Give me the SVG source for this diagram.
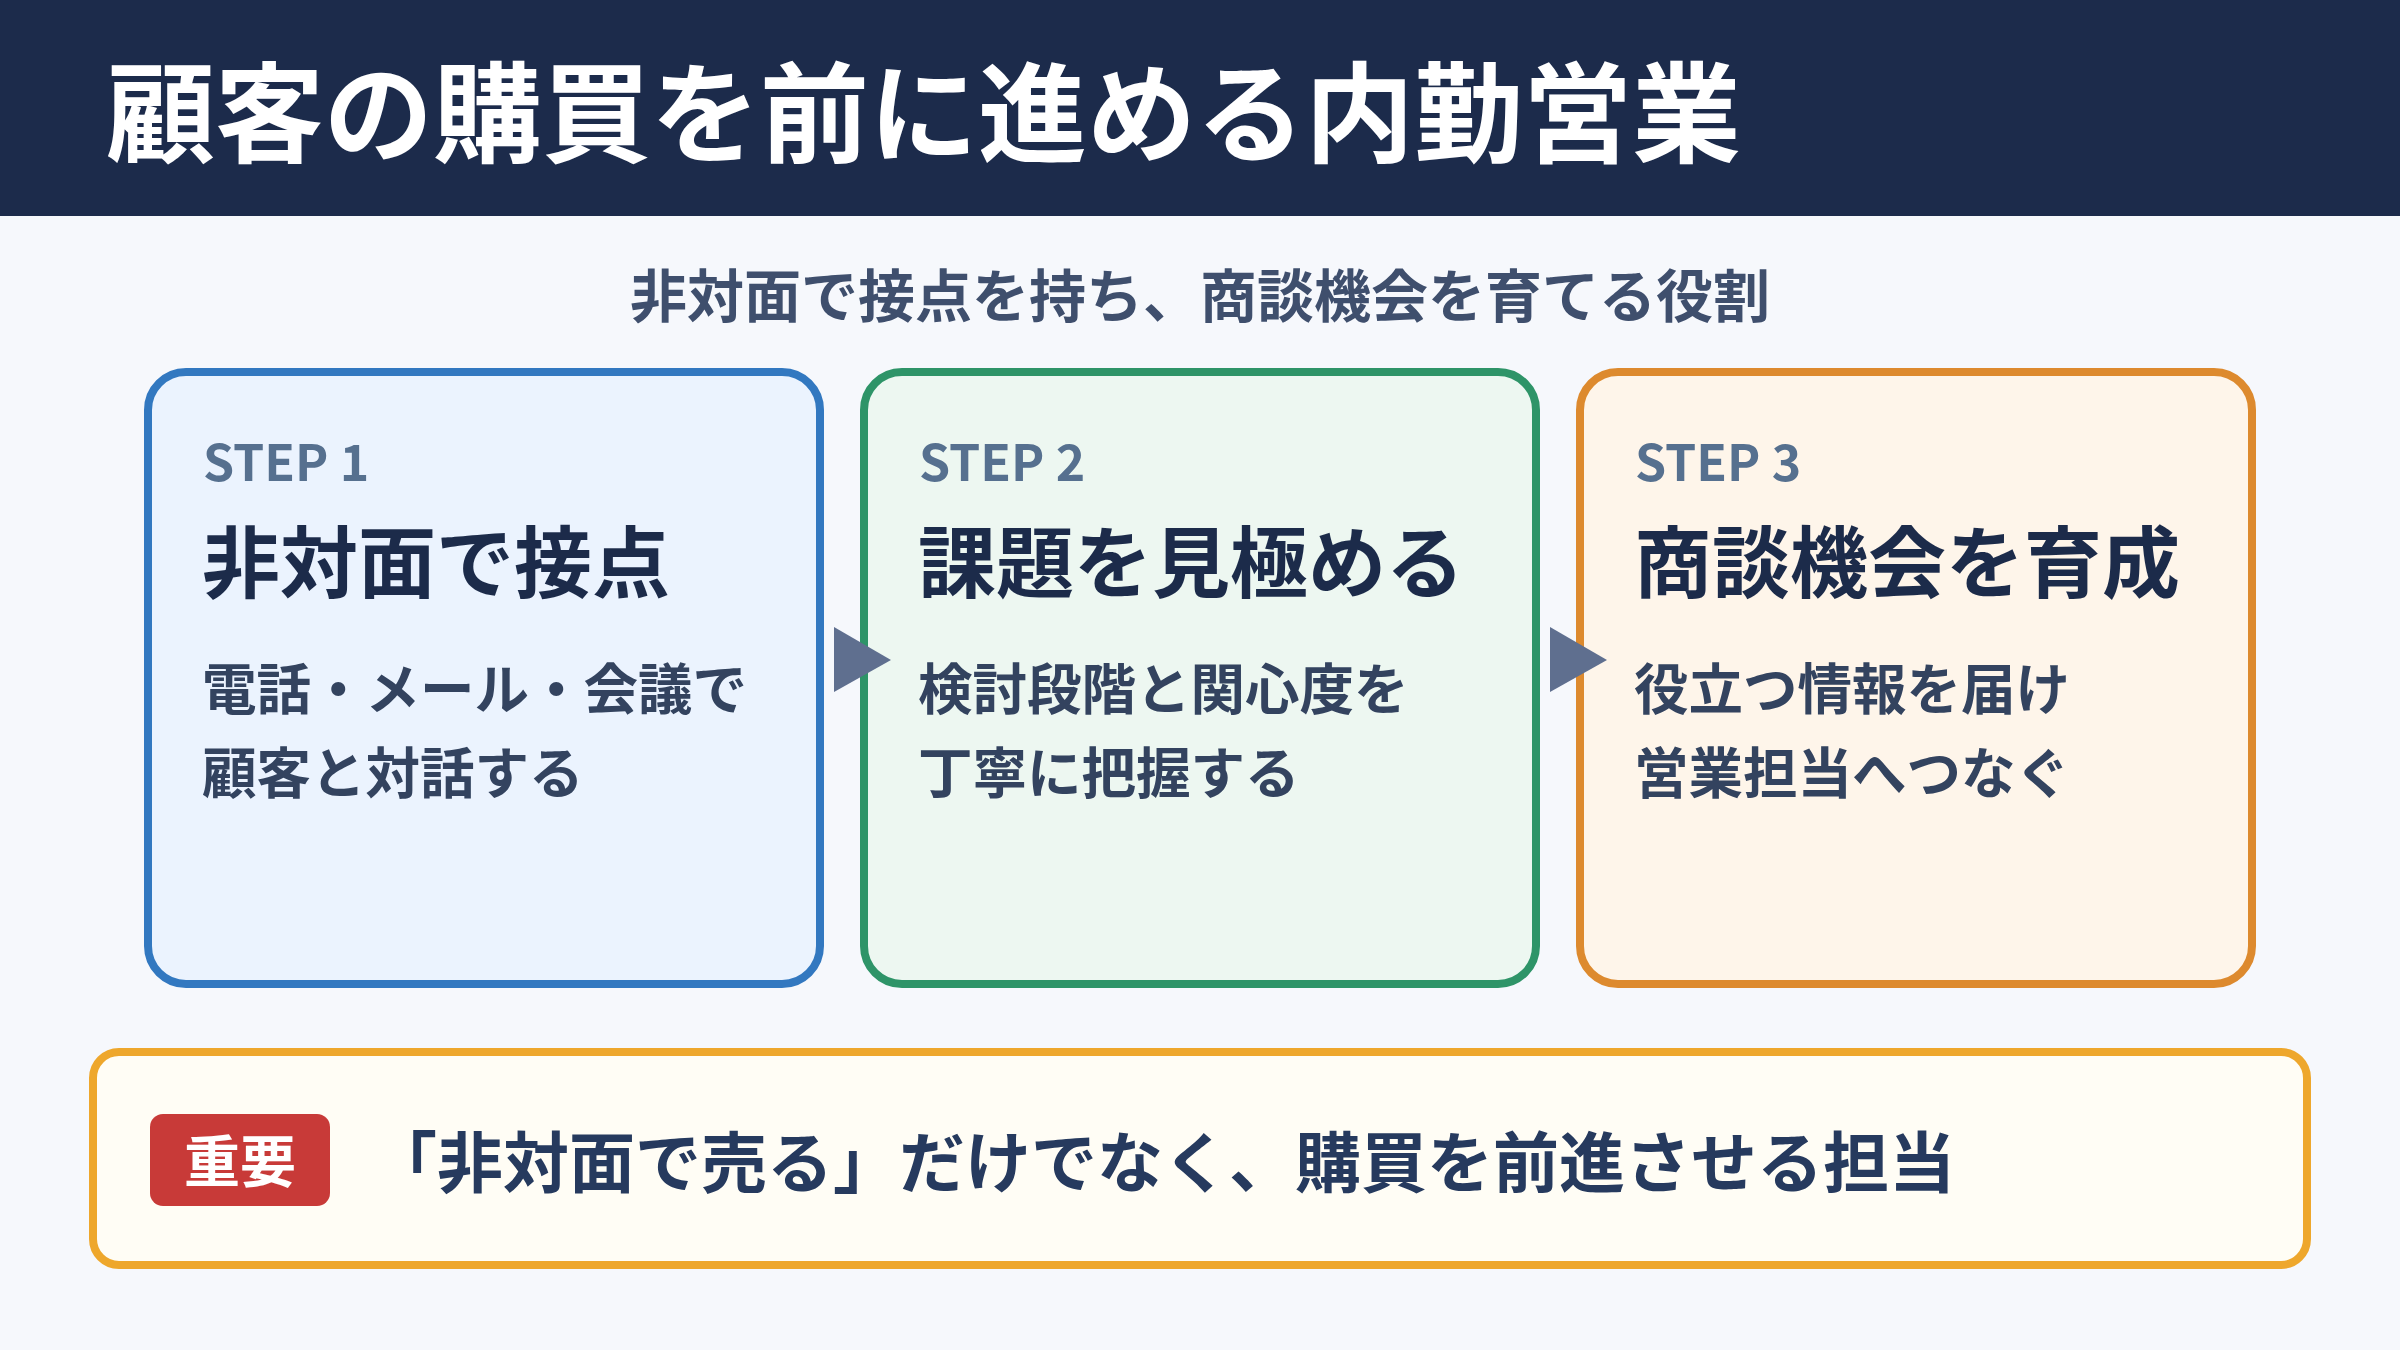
<svg xmlns="http://www.w3.org/2000/svg" width="2400" height="1350" viewBox="0 0 2400 1350">
  <style>
    text { font-family: "Noto Sans CJK JP", "Noto Sans", sans-serif; font-weight: 700; }
    .title { fill: #ffffff; font-size: 109px; }
    .sub { fill: #3f4f6d; font-size: 57px; }
    .step { fill: #56708f; font-size: 50px; }
    .head { fill: #1c2b4a; font-size: 78px; }
    .body { fill: #33435f; font-size: 54.5px; }
    .card { stroke-width: 8; }
    .arrow { fill: #5f6f8f; }
    .note { fill: #263a5e; font-size: 66px; }
    .badge-text { fill: #ffffff; font-size: 56px; }
  </style>
  <rect x="0" y="0" width="2400" height="1350" fill="#f6f8fc"/>
  <g id="header">
    <rect x="0" y="0" width="2400" height="216" fill="#1c2b4b"/>
    <text class="title" x="106" y="154">顧客の購買を前に進める内勤営業</text>
  </g>
  <g id="subtitle">
    <text class="sub" x="1200" y="317" text-anchor="middle">非対面で接点を持ち、商談機会を育てる役割</text>
  </g>
  <g id="step1">
    <rect class="card" x="148" y="372" width="672" height="612" rx="38" fill="#ebf3fe" stroke="#3278c0"/>
    <text class="step" x="203" y="481">STEP 1</text>
    <text class="head" x="202" y="592">非対面で接点</text>
    <text class="body" x="202" y="709">電話・メール・会議で</text>
    <text class="body" x="202" y="793">顧客と対話する</text>
  </g>
  <g id="step2">
    <rect class="card" x="864" y="372" width="672" height="612" rx="38" fill="#edf7f1" stroke="#2e9468"/>
    <text class="step" x="919" y="481">STEP 2</text>
    <text class="head" x="918" y="592">課題を見極める</text>
    <text class="body" x="918" y="709">検討段階と関心度を</text>
    <text class="body" x="918" y="793">丁寧に把握する</text>
  </g>
  <g id="step3">
    <rect class="card" x="1580" y="372" width="672" height="612" rx="38" fill="#fef5ea" stroke="#dd8a2e"/>
    <text class="step" x="1635" y="481">STEP 3</text>
    <text class="head" x="1634" y="592">商談機会を育成</text>
    <text class="body" x="1634" y="709">役立つ情報を届け</text>
    <text class="body" x="1634" y="793">営業担当へつなぐ</text>
  </g>
  <g id="connectors">
    <polygon class="arrow" points="834,627 834,692 891,660"/>
    <polygon class="arrow" points="1550,627 1550,692 1607,660"/>
  </g>
  <g id="note">
    <rect x="93" y="1052" width="2214" height="213" rx="26" fill="#fffdf5" stroke="#eea72c" stroke-width="8"/>
    <rect x="150" y="1114" width="180" height="92" rx="13" fill="#c83a38"/>
    <text class="badge-text" x="240" y="1182" text-anchor="middle">重要</text>
    <text class="note" x="371" y="1187">「非対面で売る」だけでなく、購買を前進させる担当</text>
  </g>
</svg>
